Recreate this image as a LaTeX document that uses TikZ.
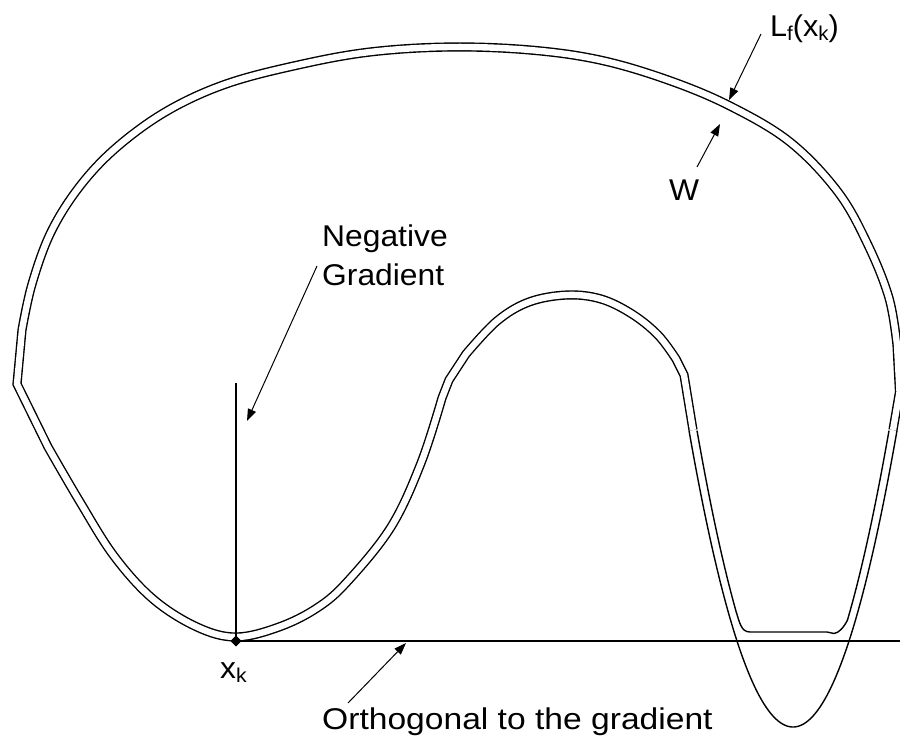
\documentclass[tikz,border=0pt]{standalone}
\usepackage{fontspec}
\setmainfont{Liberation Sans}
\usepackage{graphicx}
\usetikzlibrary{arrows.meta,shapes.geometric}
\newcommand{\lbl}[2][1.06]{\scalebox{#1}[1]{#2}}
\newcommand{\subk}[1]{\raisebox{-4.5pt}{\fontsize{20}{20}\selectfont #1}}
\tikzset{
  wall/.style={line width=1.4pt, line join=miter, line cap=butt},
  dbl/.style={wall, double=white, double distance=6.4pt},
  ln/.style={line width=1.2pt},
  arr/.style={line width=1pt, -{Triangle[length=12pt,width=8.5pt]}},
  lab/.style={anchor=base west, inner sep=0pt, font=\fontsize{30}{36}\selectfont},
}
\begin{document}
\begin{tikzpicture}[x=1pt,y=-1pt]
\useasboundingbox (0,0) rectangle (900,737);
\clip (0,0) rectangle (900,737);
\fill[white] (0,0) rectangle (900,737);
% main double outline (L_f outer line, W inner line)
\draw[dbl] (893,430) -- (899.5,392)
  -- plot[smooth, tension=0.6] coordinates {(897,345) (889,298) (868,245) (838,192) (790,142) (730,106) (668,80) (600,60) (530,50) (450,47) (370,52) (298,65) (226,84) (167,111) (117,147) (80,186) (51,232) (32,284) (22,330)}
  -- (17,384)
  -- plot[smooth, tension=0.6] coordinates {(48,447) (80,502) (114,556) (153,599) (197,627) (236,637) (279,627) (317,608) (347,582) (391,527) (421,463) (442,398)}
  -- (449,380)
  -- plot[smooth, tension=0.6] coordinates {(466,354) (497,321) (529,302) (567,295) (601,299) (632,314) (658,335) (676,359)}
  -- (684,375) -- (693,430);
% valley: outer line L_f (parabola)
\draw[wall] plot[domain=689:897, samples=90] (\x,{727-0.0274*(\x-793)^2});
% valley: inner line W (flat bottom)
\draw[wall] plot[domain=697:736.2, samples=30] (\x,{727-0.0274*(\x-801)^2})
  .. controls (739.5,622) and (741,632) .. (750,632) -- (827,632) -- (834,633.5)
  .. controls (839,633) and (844,627) .. (847.5,620)
  -- plot[domain=847.5:889, samples=30] (\x,{727-0.0274*(\x-785)^2});
% gradient and orthogonal lines
\node[diamond, fill=black, inner sep=0pt, minimum size=11pt] (xk) at (236,641) {};
\coordinate (gtop) at (236,383);
\coordinate (hend) at (900,641);
\draw[ln] (gtop) -- (xk.center);
\draw[ln] (xk.center) -- (hend);
\node[diamond, fill=black, inner sep=0pt, minimum size=11pt] at (xk.center) {};
% labels
\node[lab] (neg) at (322,246) {\lbl{Negative}};
\node[lab] (grad) at (322,285) {\lbl{Gradient}};
\node[lab] (xkl) at (220,678) {\lbl{x\subk{k}}};
\node[lab] (orth) at (322,729) {\lbl[1.12]{Orthogonal to the gradient}};
\node[lab] (lf) at (770,36) {\lbl[1.02]{L\subk{f}(x\subk{k})}};
\node[lab] (w) at (669,200) {\lbl{W}};
% arrows
\coordinate (ngS) at (317,266); \coordinate (ngE) at (247,421);
\coordinate (orS) at (348,703); \coordinate (orE) at (406,643);
\coordinate (lfS) at (761,34);  \coordinate (lfE) at (729,100);
\coordinate (wS) at (697,167);  \coordinate (wE) at (720,124);
\draw[arr] (ngS) -- (ngE);
\draw[arr] (orS) -- (orE);
\draw[arr] (lfS) -- (lfE);
\draw[arr] (wS) -- (wE);
\end{tikzpicture}
\end{document}
